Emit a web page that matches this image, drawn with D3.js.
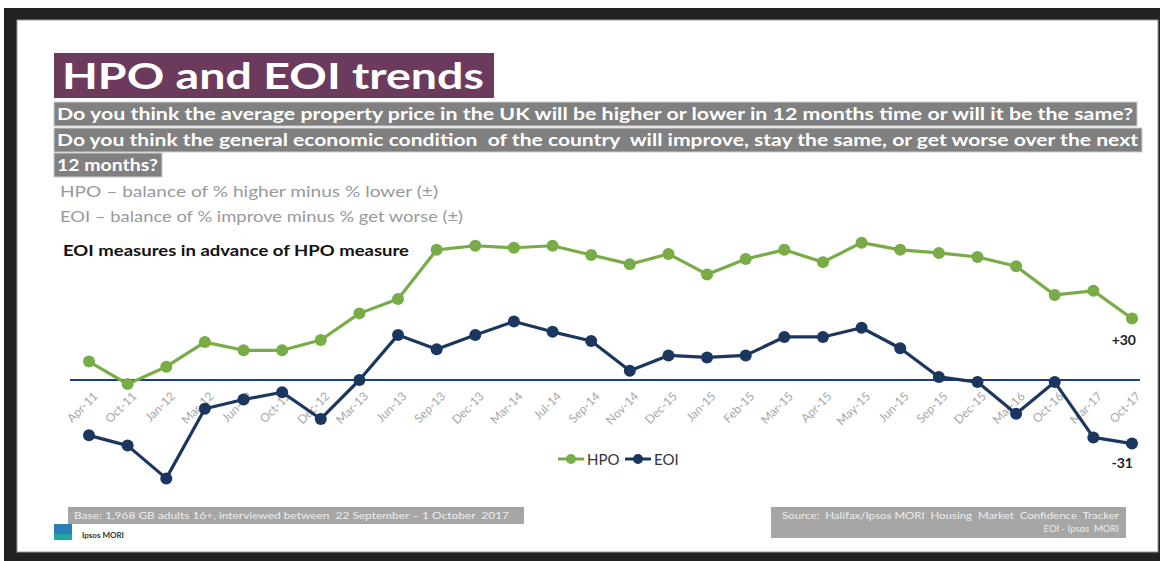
<!DOCTYPE html>
<html lang="en">
<head>
<meta charset="UTF-8">
<title>HPO and EOI trends</title>
<style>
  body { margin: 0; background: #fff; }
  svg { display: block; font-family: Lato, "Open Sans", sans-serif; }
</style>
</head>
<body>
<svg id="chart" width="1160" height="561"></svg>
<script src="https://d3js.org/d3.v7.min.js"></script>
<script>
// categories (survey waves)
const waves = ["Apr-11","Oct-11","Jan-12","Mar-12","Jun-12","Oct-12","Dec-12","Mar-13","Jun-13","Sep-13",
  "Dec-13","Mar-14","Jul-14","Sep-14","Nov-14","Dec-15","Jan-15","Feb-15","Mar-15","Apr-15",
  "May-15","Jun-15","Sep-15","Dec-15","Mar-16","Oct-16","Mar-17","Oct-17"];

// HPO balance
const hpo = [9, -2, 6.5, 18.5, 14.5, 14.5, 19.5, 32.5, 39.5, 63.5, 65.5, 64.5, 65.5, 61,
  56.5, 61.5, 51.5, 59, 63.5, 57.5, 67, 63.5, 62, 60, 55.5, 41.5, 43.5, 30];

// EOI balance
const eoi = [-27, -32, -48, -14, -9.5, -6, -19, 0, 22, 15, 22, 28.5, 23.5, 19,
  4.5, 12, 11, 12, 21, 21, 25.5, 15.5, 1.5, -1, -16.5, -1, -28, -31];

const seriesNames = ["HPO", "EOI"];
const endLabels = ["+30", "-31"];

const green = "#77ac46", navy = "#1b365f";

const svg = d3.select("#chart");

// slide frame
svg.append("rect").attr("x", 4).attr("y", 8).attr("width", 1156).attr("height", 553).attr("fill", "#222");
svg.append("rect").attr("x", 17).attr("y", 20).attr("width", 1141).attr("height", 532)
  .attr("fill", "#fff").attr("stroke", "#999").attr("stroke-width", 1);

// title
svg.append("rect").attr("x", 54).attr("y", 53).attr("width", 440).attr("height", 45).attr("fill", "#6b3a5d");
svg.append("text").attr("x", 62).attr("y", 89).attr("fill", "#fff")
  .attr("font-size", 36).attr("font-weight", 700)
  .attr("textLength", 422).attr("lengthAdjust", "spacingAndGlyphs")
  .text("HPO and EOI trends");

// question lines on grey bars
const questions = [
  {t: "Do you think the average property price in the UK will be higher or lower in 12 months time or will it be the same?", y: 102, w: 1083},
  {t: "Do you think the general economic condition  of the country  will improve, stay the same, or get worse over the next", y: 128, w: 1088},
  {t: "12 months?", y: 153, w: 108}
];
questions.forEach(q => {
  svg.append("rect").attr("x", 54).attr("y", q.y).attr("width", q.w).attr("height", 24)
    .attr("fill", "#808080").attr("stroke", "#ccc").attr("stroke-width", 1);
  svg.append("text").attr("x", 57).attr("y", q.y + 18).attr("fill", "#fff")
    .attr("font-size", 17).attr("font-weight", 700)
    .attr("textLength", q.w - 7).attr("lengthAdjust", "spacingAndGlyphs")
    .style("white-space", "pre")
    .text(q.t);
});

// definitions
svg.append("text").attr("x", 60).attr("y", 197).attr("fill", "#999").attr("font-size", 15)
  .attr("textLength", 378).attr("lengthAdjust", "spacingAndGlyphs")
  .text("HPO \u2013 balance of % higher minus % lower (\u00b1)");
svg.append("text").attr("x", 60).attr("y", 222).attr("fill", "#999").attr("font-size", 15)
  .attr("textLength", 403).attr("lengthAdjust", "spacingAndGlyphs")
  .text("EOI \u2013 balance of % improve minus % get worse (\u00b1)");
svg.append("text").attr("x", 63).attr("y", 256).attr("fill", "#111").attr("font-size", 15).attr("font-weight", 700)
  .attr("textLength", 346).attr("lengthAdjust", "spacingAndGlyphs")
  .text("EOI measures in advance of HPO measure");

// scales
const x = d3.scaleLinear().domain([0, waves.length - 1]).range([89, 1132]);
const y = d3.scaleLinear().domain([-50, 70]).range([482.5, 236.5]);

// zero line
svg.append("line").attr("x1", 70).attr("x2", 1140).attr("y1", y(0)).attr("y2", y(0))
  .attr("stroke", "#1f3c88").attr("stroke-width", 2);

// x axis labels
const xAxis = svg.append("g").attr("transform", `translate(0,${y(0) + 8})`)
  .call(d3.axisBottom(x).tickValues(d3.range(waves.length)).tickFormat(i => waves[i]).tickSize(0));
xAxis.select(".domain").remove();
xAxis.selectAll("text")
  .attr("fill", "#a8a8a8").attr("font-size", 12).attr("font-family", "Lato, sans-serif")
  .attr("text-anchor", "end").attr("dy", "0.35em").attr("y", 0)
  .attr("transform", "translate(6,6) rotate(-45)");

// lines and markers
const line = d3.line().x((d, i) => x(i)).y(d => y(d));
[[hpo, green], [eoi, navy]].forEach(([vals, col]) => {
  svg.append("path").datum(vals).attr("d", line).attr("fill", "none")
    .attr("stroke", col).attr("stroke-width", 3.2).attr("stroke-linejoin", "round");
  svg.append("g").selectAll("circle").data(vals).join("circle")
    .attr("cx", (d, i) => x(i)).attr("cy", d => y(d)).attr("r", 6).attr("fill", col);
});

// end labels
svg.append("text").attr("x", x(27) + 4).attr("y", y(hpo[27]) + 26).attr("text-anchor", "end")
  .attr("font-size", 14).attr("font-weight", 700).attr("fill", "#222").text(endLabels[0]);
svg.append("text").attr("x", x(27) + 1).attr("y", y(eoi[27]) + 24).attr("text-anchor", "end")
  .attr("font-size", 14).attr("font-weight", 700).attr("fill", "#222").text(endLabels[1]);

// legend
const legend = svg.append("g").attr("transform", "translate(558,459)");
[[green, 0], [navy, 67]].forEach(([col, dx], k) => {
  legend.append("line").attr("x1", dx).attr("x2", dx + 26).attr("y1", 0).attr("y2", 0)
    .attr("stroke", col).attr("stroke-width", 3);
  legend.append("circle").attr("cx", dx + 13).attr("cy", 0).attr("r", 5).attr("fill", col);
  legend.append("text").attr("x", dx + 29).attr("y", 5.5).attr("font-size", 15)
    .attr("fill", "#333").text(seriesNames[k]);
});

// footer base note
svg.append("rect").attr("x", 68).attr("y", 507).attr("width", 456).attr("height", 17).attr("fill", "#a6a6a6");
svg.append("text").attr("x", 74).attr("y", 519).attr("fill", "#eee").attr("font-size", 9.5)
  .attr("textLength", 435).attr("lengthAdjust", "spacingAndGlyphs").style("white-space", "pre")
  .text("Base: 1,968 GB adults 16+, interviewed between  22 September \u2013 1 October  2017");

// logo
svg.append("rect").attr("x", 54).attr("y", 524).attr("width", 18).attr("height", 16).attr("fill", "#2a7fb8");
svg.append("rect").attr("x", 54).attr("y", 534).attr("width", 18).attr("height", 6).attr("fill", "#22a7a0");
svg.append("text").attr("x", 82).attr("y", 538).attr("font-size", 8).attr("font-weight", 700)
  .attr("fill", "#333").text("Ipsos MORI");

// footer source
svg.append("rect").attr("x", 771).attr("y", 507).attr("width", 355).attr("height", 31).attr("fill", "#a6a6a6");
svg.append("text").attr("x", 1119).attr("y", 519).attr("text-anchor", "end").attr("fill", "#eee").attr("font-size", 9.5)
  .attr("textLength", 337).attr("lengthAdjust", "spacingAndGlyphs").style("white-space", "pre")
  .text("Source:  Halifax/Ipsos MORI  Housing  Market  Confidence  Tracker");
svg.append("text").attr("x", 1119).attr("y", 532).attr("text-anchor", "end").attr("fill", "#eee").attr("font-size", 9.5)
  .style("white-space", "pre").text("EOI - Ipsos  MORI");
</script>
</body>
</html>
